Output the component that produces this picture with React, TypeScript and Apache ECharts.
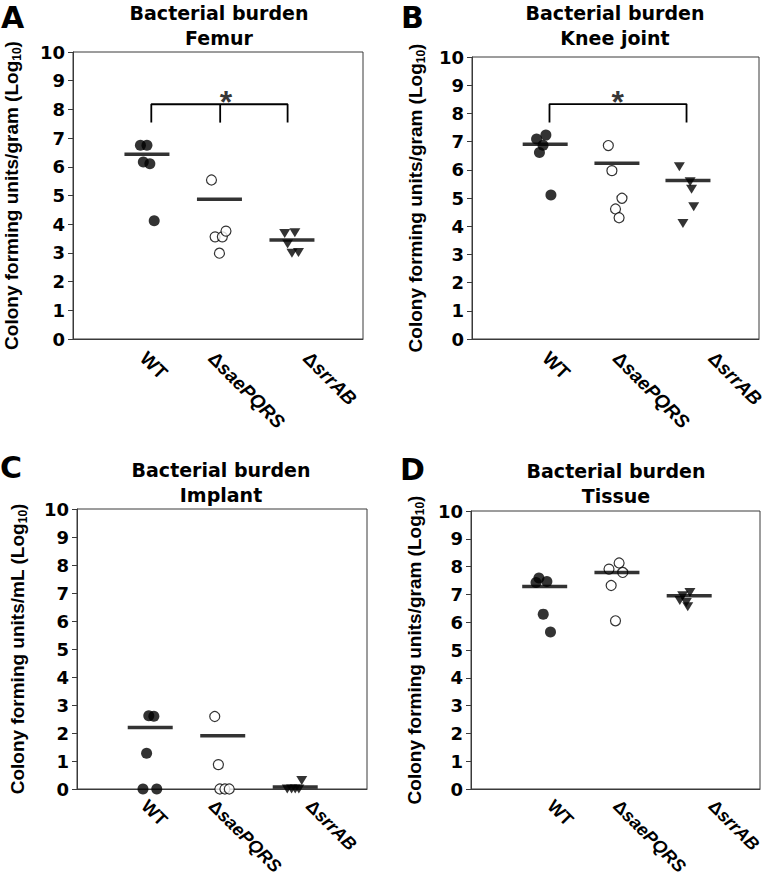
import React, { useEffect, useRef } from "react";
import * as echarts from "echarts";

// ---------------- data ----------------
const groupNames = ["WT", "ΔsaePQRS", "ΔsrrAB"];
const yMin = 0;
const yMax = 10;
const yStep = 1;

const panelLetters = ["A", "B", "C", "D"];
const panelTitles = [
  ["Bacterial burden", "Femur"],
  ["Bacterial burden", "Knee joint"],
  ["Bacterial burden", "Implant"],
  ["Bacterial burden", "Tissue"],
];
const yAxisTitles = [
  "Colony forming units/gram",
  "Colony forming units/gram",
  "Colony forming units/mL",
  "Colony forming units/gram",
];

// Panel A – Femur (log10 CFU/g)
const femurWT = [6.75, 6.75, 6.17, 6.11, 4.12];
const femurSae = [5.54, 3.56, 3.56, 3.76, 2.99];
const femurSrr = [3.68, 3.7, 3.31, 2.99, 3.01];
const femurMean = [6.44, 4.87, 3.45];
const femurWTX = [0.93, 1.02, 0.97, 1.06, 1.12];
const femurSaeX = [1.91, 1.96, 2.06, 2.11, 2.02];
const femurSrrX = [2.92, 3.06, 2.96, 3.02, 3.11];
const femurMeanX = [1.02, 2.02, 3.02];

// Panel B – Knee joint
const kneeWT = [7.09, 7.23, 6.87, 6.61, 5.11];
const kneeSae = [6.86, 5.97, 4.99, 4.61, 4.3];
const kneeSrr = [6.11, 5.58, 5.31, 4.69, 4.1];
const kneeMean = [6.91, 6.23, 5.62];
const kneeWTX = [0.9, 1.03, 0.99, 0.94, 1.1];
const kneeSaeX = [1.9, 1.95, 2.09, 2.0, 2.05];
const kneeSrrX = [2.89, 3.04, 3.06, 3.09, 2.94];
const kneeMeanX = [1.02, 2.02, 3.01];

// Panel C – Implant (log10 CFU/mL)
const implantWT = [2.62, 2.6, 1.28, 0, 0];
const implantSae = [2.59, 0.87, 0, 0, 0];
const implantSrr = [0.3, 0, 0, 0, 0];
const implantMean = [2.2, 1.9, 0.07];
const implantWTX = [0.99, 1.06, 0.96, 0.91, 1.1];
const implantSaeX = [1.9, 1.95, 1.97, 2.04, 2.1];
const implantSrrX = [3.1, 2.9, 2.96, 3.01, 3.06];
const implantMeanX = [1.01, 2.01, 3.01];

// Panel D – Tissue
const tissueWT = [7.59, 7.46, 7.43, 6.29, 5.65];
const tissueSae = [7.91, 8.13, 7.79, 7.32, 6.05];
const tissueSrr = [7.07, 6.95, 6.78, 6.71, 6.56];
const tissueMean = [7.28, 7.79, 6.95];
const tissueWTX = [0.94, 1.05, 0.9, 1.0, 1.1];
const tissueSaeX = [1.91, 2.05, 2.1, 1.94, 2.0];
const tissueSrrX = [3.03, 2.93, 2.89, 2.98, 3.0];
const tissueMeanX = [1.02, 2.02, 3.02];

// significance brackets (x in group units, y in log10)
const femurBracketX = [1.08, 2.03, 2.96];
const femurBracketY = [7.54, 8.18];
const femurStar = [2.11, 8.25];
const kneeBracketX = [1.08, 2.99];
const kneeBracketY = [7.68, 8.33];
const kneeStar = [2.03, 8.39];

// ---------------- layout ----------------
const grids = [
  { left: 73, top: 52, width: 290, height: 287 },
  { left: 472, top: 57, width: 287, height: 282 },
  { left: 77, top: 509, width: 290, height: 280 },
  { left: 471, top: 511, width: 289, height: 278 },
];
const labelPositions = [
  [0.97, 1.91, 3.22],
  [1.03, 2.01, 3.34],
  [0.93, 1.86, 3.2],
  [1.1, 2.01, 3.33],
];
const labelMargins = [16, 16, 14, 14];
const labelSizes = [19, 19, 18, 18];
const nameGaps = [50, 45, 48, 45];
const titlePos = [
  { x: 219, y: 0.5 },
  { x: 615, y: 0.5 },
  { x: 221, y: 457 },
  { x: 616, y: 458.5 },
];
const letterPos = [
  { x: 1, y: 2 },
  { x: 401, y: 2 },
  { x: 0, y: 452.5 },
  { x: 400, y: 454 },
];

const HFONT = "DejaVu Sans";
const VFONT = "Liberation Sans";
const AXIS_COLOR = "#3a3a3a";

const zip = (xs: number[], ys: number[]) => ys.map((y, i) => [xs[i], y]);

const panels = [
  { wt: femurWT, wtX: femurWTX, sae: femurSae, saeX: femurSaeX, srr: femurSrr, srrX: femurSrrX, mean: femurMean, meanX: femurMeanX },
  { wt: kneeWT, wtX: kneeWTX, sae: kneeSae, saeX: kneeSaeX, srr: kneeSrr, srrX: kneeSrrX, mean: kneeMean, meanX: kneeMeanX },
  { wt: implantWT, wtX: implantWTX, sae: implantSae, saeX: implantSaeX, srr: implantSrr, srrX: implantSrrX, mean: implantMean, meanX: implantMeanX },
  { wt: tissueWT, wtX: tissueWTX, sae: tissueSae, saeX: tissueSaeX, srr: tissueSrr, srrX: tissueSrrX, mean: tissueMean, meanX: tissueMeanX },
];

function groupLabel(value: number) {
  const name = groupNames[Math.round(value) - 1] || "";
  if (name.startsWith("Δ")) return `{n|Δ}{i|${name.slice(1)}}`;
  return `{n|${name}}`;
}

function buildOption() {
  const series: any[] = [];
  panels.forEach((p, i) => {
    const base = { xAxisIndex: i, yAxisIndex: i, clip: false, silent: true };
    series.push({
      ...base,
      type: "scatter",
      symbol: "circle",
      symbolSize: 11,
      itemStyle: { color: "#000" },
      data: zip(p.wtX, p.wt),
    });
    series.push({
      ...base,
      type: "scatter",
      symbol: "circle",
      symbolSize: 10,
      itemStyle: { color: "#fff", borderColor: "#000", borderWidth: 1.2 },
      data: zip(p.saeX, p.sae),
    });
    series.push({
      ...base,
      type: "scatter",
      symbol: "triangle",
      symbolRotate: 180,
      symbolSize: [11, 9],
      itemStyle: { color: "#000" },
      data: zip(p.srrX, p.srr),
    });
    series.push({
      ...base,
      type: "scatter",
      symbol: "rect",
      symbolSize: [45, 3.5],
      itemStyle: { color: "#000" },
      z: 5,
      data: zip(p.meanX, p.mean),
    });
  });

  const bracketStyle = { color: "#000", width: 1.8 };
  // bracket A
  series.push({
    type: "line", xAxisIndex: 0, yAxisIndex: 0, symbol: "none", silent: true,
    lineStyle: bracketStyle,
    data: [
      [femurBracketX[0], femurBracketY[0]],
      [femurBracketX[0], femurBracketY[1]],
      [femurBracketX[2], femurBracketY[1]],
      [femurBracketX[2], femurBracketY[0]],
    ],
  });
  series.push({
    type: "line", xAxisIndex: 0, yAxisIndex: 0, symbol: "none", silent: true,
    lineStyle: bracketStyle,
    data: [
      [femurBracketX[1], femurBracketY[1]],
      [femurBracketX[1], femurBracketY[0]],
    ],
  });
  // bracket B
  series.push({
    type: "line", xAxisIndex: 1, yAxisIndex: 1, symbol: "none", silent: true,
    lineStyle: bracketStyle,
    data: [
      [kneeBracketX[0], kneeBracketY[0]],
      [kneeBracketX[0], kneeBracketY[1]],
      [kneeBracketX[1], kneeBracketY[1]],
      [kneeBracketX[1], kneeBracketY[0]],
    ],
  });
  const starLabel = {
    show: true, formatter: "*", position: "inside",
    fontFamily: VFONT, fontWeight: "bold", fontSize: 32, color: "#000",
  };
  series.push({
    type: "scatter", xAxisIndex: 0, yAxisIndex: 0, symbolSize: 1, silent: true,
    itemStyle: { color: "rgba(0,0,0,0)" }, label: starLabel, data: [femurStar],
  });
  series.push({
    type: "scatter", xAxisIndex: 1, yAxisIndex: 1, symbolSize: 1, silent: true,
    itemStyle: { color: "rgba(0,0,0,0)" }, label: starLabel, data: [kneeStar],
  });

  const xAxis = grids.map((_, i) => ({
    type: "value",
    gridIndex: i,
    min: 0,
    max: 4,
    splitLine: { show: false },
    axisTick: { show: false },
    axisLine: { show: true, onZero: false, lineStyle: { color: AXIS_COLOR, width: 1 } },
    axisLabel: {
      customValues: labelPositions[i],
      rotate: -45,
      margin: labelMargins[i],
      formatter: (v: number) => groupLabel(v),
      rich: {
        n: { fontFamily: VFONT, fontWeight: "bold", fontSize: labelSizes[i], color: "#000" },
        i: { fontFamily: VFONT, fontWeight: "bold", fontStyle: "italic", fontSize: labelSizes[i], color: "#000" },
      },
    },
  }));

  const yAxis = grids.map((_, i) => ({
    type: "value",
    gridIndex: i,
    min: yMin,
    max: yMax,
    interval: yStep,
    splitLine: { show: false },
    axisLine: { show: true, lineStyle: { color: AXIS_COLOR, width: 1 } },
    axisTick: { show: true, inside: false, length: 5, lineStyle: { color: AXIS_COLOR } },
    axisLabel: {
      margin: 8,
      fontFamily: HFONT,
      fontWeight: "bold",
      fontSize: 18,
      color: "#000",
    },
    name: `{a|${yAxisTitles[i]} (Log}{b|10}{a|)}`,
    nameLocation: "middle",
    nameRotate: 90,
    nameGap: nameGaps[i],
    nameTextStyle: {
      rich: {
        a: { fontFamily: VFONT, fontWeight: "bold", fontSize: 19, color: "#000", lineHeight: 24 },
        b: { fontFamily: VFONT, fontWeight: "bold", fontSize: 12, color: "#000", lineHeight: 12, verticalAlign: "bottom" },
      },
    },
  }));

  const graphic: any[] = [];
  panelTitles.forEach((t, i) => {
    graphic.push({
      type: "text",
      x: titlePos[i].x,
      y: titlePos[i].y,
      silent: true,
      style: {
        text: t.join("\n"),
        fill: "#000",
        font: `bold 19px '${HFONT}'`,
        textAlign: "center",
        textVerticalAlign: "top",
        lineHeight: 25,
      },
    });
  });
  panelLetters.forEach((l, i) => {
    graphic.push({
      type: "text",
      x: letterPos[i].x,
      y: letterPos[i].y,
      silent: true,
      style: {
        text: l,
        fill: "#000",
        font: `bold 30px '${HFONT}'`,
        textAlign: "left",
        textVerticalAlign: "top",
      },
    });
  });

  return {
    animation: false,
    backgroundColor: "#fff",
    grid: grids.map((g) => ({
      ...g,
      show: true,
      borderColor: AXIS_COLOR,
      borderWidth: 1,
      backgroundColor: "transparent",
      containLabel: false,
      outerBoundsMode: "none",
    })),
    xAxis,
    yAxis,
    series,
    graphic,
  };
}

export default function App() {
  const ref = useRef<HTMLDivElement>(null);
  useEffect(() => {
    if (!ref.current) return;
    const chart = echarts.init(ref.current, undefined, { renderer: "svg" });
    chart.setOption(buildOption() as any);
    return () => chart.dispose();
  }, []);
  return (
    <div
      ref={ref}
      style={{ position: "absolute", left: 0, top: 0, width: 766, height: 876, background: "#fff" }}
    />
  );
}
